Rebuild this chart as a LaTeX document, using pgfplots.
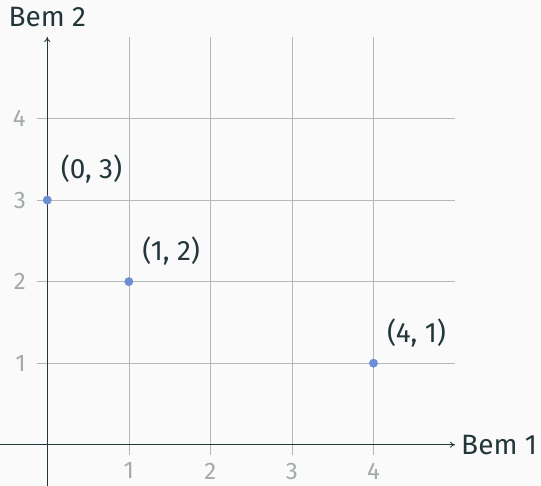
\documentclass[border=0pt]{standalone}
\usepackage{fontspec}
\setmainfont{Fira Sans}
\usepackage{pgfplots}
\pgfplotsset{compat=1.18}
\usetikzlibrary{arrows.meta}
\definecolor{mDark}{HTML}{23373B}
\definecolor{mBg}{HTML}{FAFAFA}
\definecolor{gridc}{HTML}{B4B8B8}
\definecolor{tickc}{HTML}{A3AAAA}
\definecolor{ptc}{RGB}{108,142,212}
\begin{document}
\begin{tikzpicture}
\path[use as bounding box, fill=mBg] (-47.3pt,-41pt) rectangle (494pt,445pt);
\begin{axis}[
    axis lines=middle,
    x=81.6pt, y=81.6pt,
    xmin=0, xmax=5, ymin=0, ymax=5,
    xtick={1,2,3,4}, ytick={1,2,3,4},
    grid=major,
    grid style={gridc, line width=0.6pt},
    major tick length=10pt,
    tick align=outside,
    tick style={gridc, line width=0.6pt},
    axis line style={mDark, line width=0.8pt, -{To[length=5pt,width=6pt]}},
    x axis line style={shorten <=-47.3pt},
    y axis line style={shorten <=-41pt},
    tick label style={font=\fontsize{24}{26}\selectfont, text=tickc},
    xticklabel style={anchor=north, inner sep=1pt, yshift=-7pt},
    yticklabel style={anchor=east, xshift=-8pt},
    /pgf/number format/assume math mode=true,
    xlabel={Bem 1}, ylabel={Bem 2},
    label style={font=\fontsize{28}{30}\selectfont, text=mDark},
    xlabel style={anchor=west, xshift=5pt, inner sep=1pt},
    ylabel style={anchor=base, yshift=10pt},
    clip=false,
]
\addplot[only marks, mark=*, mark size=4.2pt, color=ptc,
    nodes near coords, point meta=explicit symbolic,
    nodes near coords style={anchor=south west, xshift=10pt, yshift=13pt,
        text=mDark, font=\fontsize{28}{30}\selectfont}]
table[meta=label] {
x y label
0 3 {(0,\ 3)}
1 2 {(1,\ 2)}
4 1 {(4,\ 1)}
};
\end{axis}
\end{tikzpicture}
\end{document}
